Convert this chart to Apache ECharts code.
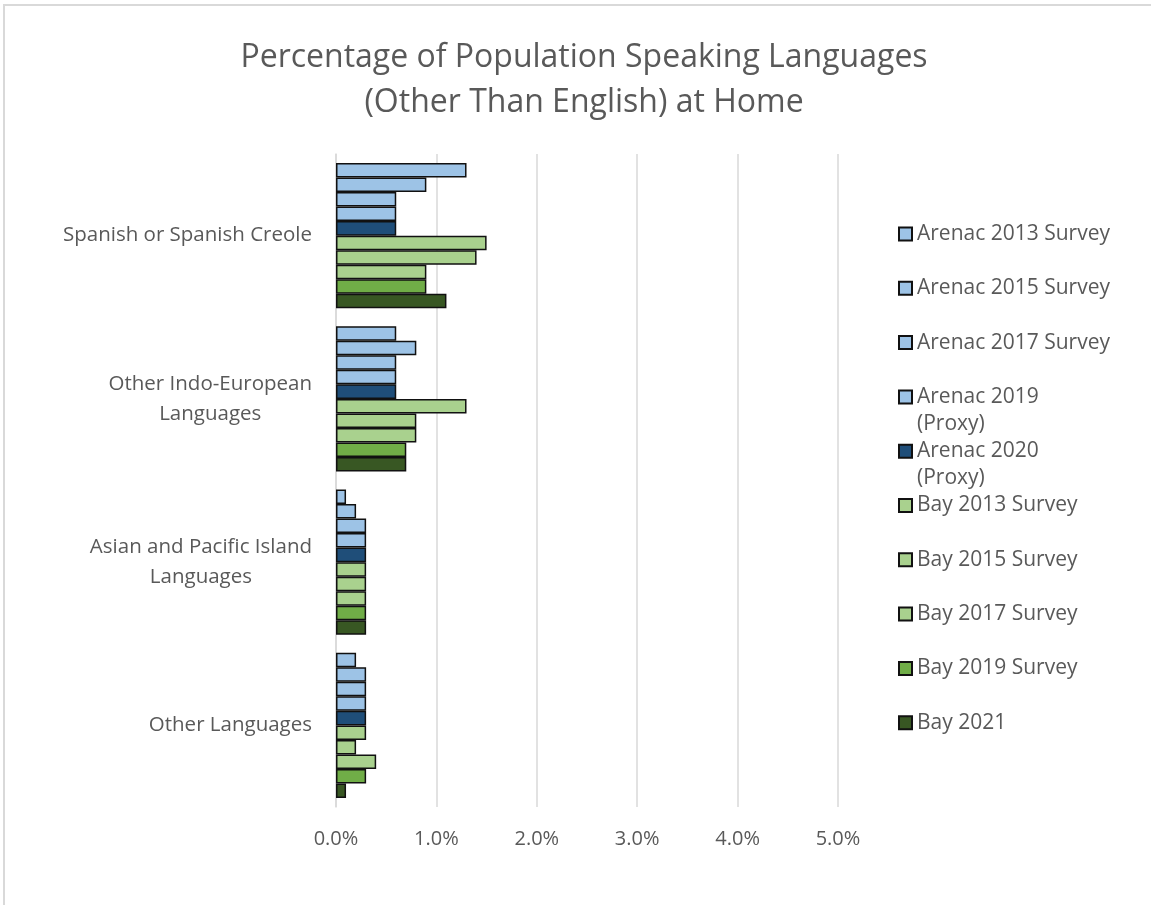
<!DOCTYPE html>
<html>
<head>
<meta charset="utf-8">
<script src="https://cdn.jsdelivr.net/npm/echarts@6/dist/echarts.min.js"></script>
<style>
html,body{margin:0;padding:0;background:#fff;}
#frame{position:absolute;left:3px;top:4px;width:1200px;height:950px;border-top:2px solid #d9d9d9;border-left:2px solid #d9d9d9;z-index:5;pointer-events:none;}
#chart{position:absolute;left:0;top:0;width:1151px;height:905px;}
</style>
</head>
<body>
<div id="chart"></div>
<div id="frame"></div>
<script>
const categories = ['Spanish or Spanish Creole', 'Other Indo-European Languages', 'Asian and Pacific Island Languages', 'Other Languages'];
const categoryLines = [['Spanish or Spanish Creole'], ['Other Indo-European', 'Languages'], ['Asian and Pacific Island', 'Languages'], ['Other Languages']];
const seriesNames = ['Arenac 2013 Survey', 'Arenac 2015 Survey', 'Arenac 2017 Survey', 'Arenac 2019 (Proxy)', 'Arenac 2020 (Proxy)', 'Bay 2013 Survey', 'Bay 2015 Survey', 'Bay 2017 Survey', 'Bay 2019 Survey', 'Bay 2021'];
const legendLines = [['Arenac 2013 Survey'], ['Arenac 2015 Survey'], ['Arenac 2017 Survey'], ['Arenac 2019', '(Proxy)'], ['Arenac 2020', '(Proxy)'], ['Bay 2013 Survey'], ['Bay 2015 Survey'], ['Bay 2017 Survey'], ['Bay 2019 Survey'], ['Bay 2021']];
// values in percent, per series, across categories
const arenac2013 = [1.3, 0.6, 0.1, 0.2];
const arenac2015 = [0.9, 0.8, 0.2, 0.3];
const arenac2017 = [0.6, 0.6, 0.3, 0.3];
const arenac2019 = [0.6, 0.6, 0.3, 0.3];
const arenac2020 = [0.6, 0.6, 0.3, 0.3];
const bay2013 = [1.5, 1.3, 0.3, 0.3];
const bay2015 = [1.4, 0.8, 0.3, 0.2];
const bay2017 = [0.9, 0.8, 0.3, 0.4];
const bay2019 = [0.9, 0.7, 0.3, 0.3];
const bay2021 = [1.1, 0.7, 0.3, 0.1];
const xTicks = [0, 1, 2, 3, 4, 5];

const seriesValues = [arenac2013, arenac2015, arenac2017, arenac2019, arenac2020, bay2013, bay2015, bay2017, bay2019, bay2021];
const colors = ['#9dc3e6', '#9dc3e6', '#9dc3e6', '#9dc3e6', '#1f4e79', '#a9d18e', '#a9d18e', '#a9d18e', '#70ad47', '#385723'];

const FONT = '"Open Sans", "Liberation Sans", sans-serif';
const TXT = '#595959';

const chart = echarts.init(document.getElementById('chart'), null, {renderer: 'canvas'});

const legendTop0 = 234, legendStep = 54.3, LH = 27;
const legends = seriesNames.map((name, i) => {
  const lines = legendLines[i];
  const yc = legendTop0 + i * legendStep;
  const multi = lines.length > 1;
  return {
    orient: 'vertical',
    left: 898,
    top: multi ? yc - 1.5 * LH : yc - LH / 2,
    padding: 0,
    itemWidth: 13,
    itemHeight: 13,
    itemGap: 0,
    icon: 'rect',
    selectedMode: false,
    data: [{name: name}],
    formatter: () => (multi ? '\n' : '') + lines.join('\n'),
    textStyle: {color: TXT, fontSize: 21, fontFamily: FONT, lineHeight: LH}
  };
});

const option = {
  backgroundColor: '#fff',
  animation: false,
  title: {
    text: 'Percentage of Population Speaking Languages\n(Other Than English) at Home',
    left: 579,
    top: 30,
    textAlign: 'center',
    textStyle: {color: TXT, fontSize: 32, fontWeight: 'normal', fontFamily: FONT, lineHeight: 45}
  },
  legend: legends,
  grid: {left: 336, right: 313, top: 154, bottom: 98, containLabel: false},
  xAxis: {
    type: 'value',
    min: xTicks[0],
    max: xTicks[xTicks.length - 1],
    interval: 1,
    axisLine: {show: false},
    axisTick: {show: false},
    splitLine: {show: true, lineStyle: {color: '#d9d9d9', width: 1.5}},
    axisLabel: {color: TXT, fontSize: 20, fontFamily: FONT, margin: 22, formatter: v => v.toFixed(1) + '%'}
  },
  yAxis: {
    type: 'category',
    data: categories,
    inverse: true,
    axisLine: {show: true, lineStyle: {color: '#d9d9d9', width: 1.5}},
    axisTick: {show: false},
    axisLabel: {
      margin: 24,
      align: 'right',
      formatter: (v, idx) => categoryLines[idx].map(l => '{c|' + l + '}').join('\n'),
      rich: {c: {color: TXT, fontSize: 20.5, fontFamily: FONT, lineHeight: 30, align: 'center'}}
    }
  },
  series: seriesNames.map((name, i) => ({
    name: name,
    type: 'bar',
    data: seriesValues[i],
    barGap: '0%',
    barCategoryGap: '11%',
    itemStyle: {color: colors[i], borderColor: '#111', borderWidth: 1.5}
  }))
};
chart.setOption(option);
</script>
</body>
</html>
